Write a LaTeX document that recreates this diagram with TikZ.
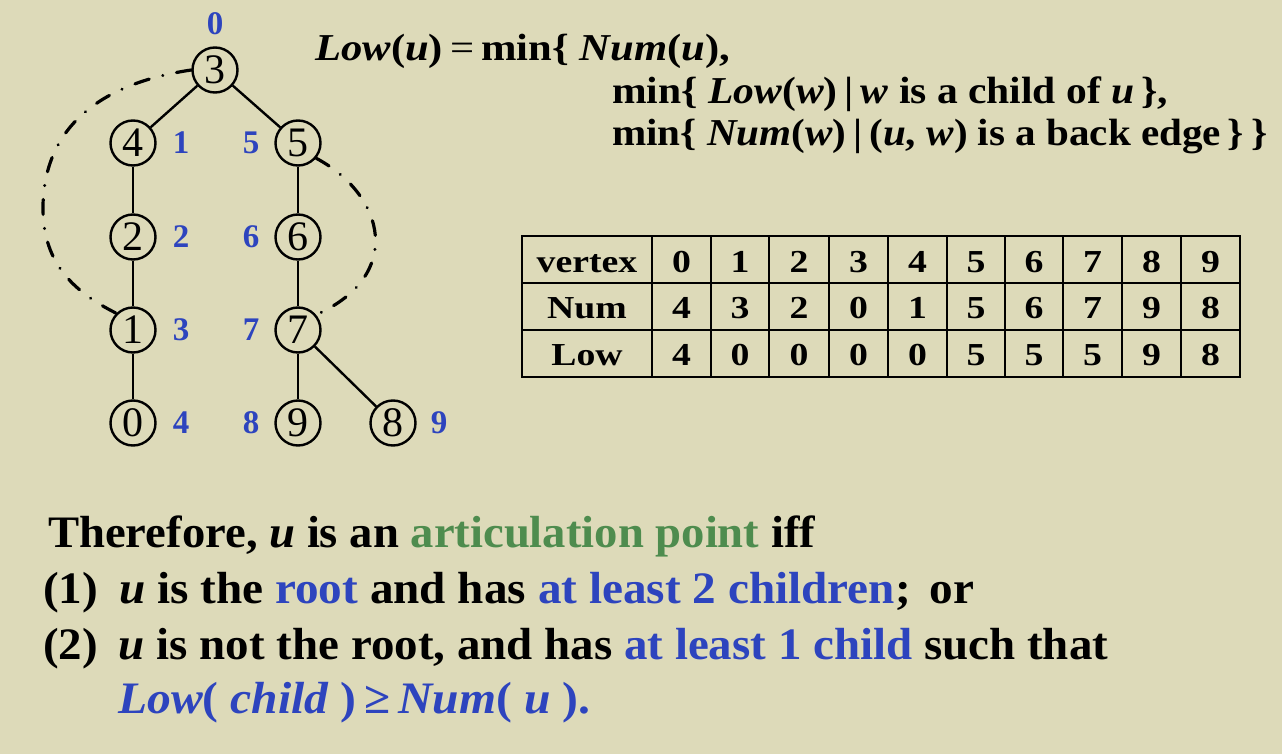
\documentclass[tikz,border=0pt]{standalone}
\usepackage{fontspec}
\usepackage{graphicx}
\setmainfont{Liberation Serif}
\definecolor{bg}{RGB}{221,218,185}
\definecolor{lblue}{RGB}{45,68,190}
\definecolor{lgreen}{RGB}{78,140,78}
\newcommand{\hfit}[2]{\resizebox{#1}{\height}{#2}}
\newcommand{\wcell}[1]{\scalebox{1.18}[1]{#1}}
\tikzset{
  vtx/.style={circle, draw, line width=2.4pt, minimum size=45pt, inner sep=0pt, font=\fontsize{42}{42}\selectfont},
  numlab/.style={text=lblue, font=\bfseries\fontsize{33}{33}\selectfont, inner sep=0pt},
  tedge/.style={line width=2.4pt},
  backedge/.style={line width=3.2pt, line cap=round, dash pattern=on 15pt off 14pt on 0.1pt off 14pt},
  formula/.style={anchor=base west, inner sep=0pt, font=\bfseries\fontsize{38}{38}\selectfont},
  bodytext/.style={anchor=base west, inner sep=0pt, font=\bfseries\fontsize{45}{45}\selectfont},
  cell/.style={anchor=base, inner sep=0pt, font=\bfseries\fontsize{32}{32}\selectfont},
  tline/.style={line width=2.6pt}
}
\begin{document}
\begin{tikzpicture}[x=1pt,y=-1pt]
\fill[bg] (0,0) rectangle (1282,754);
\useasboundingbox (0,0) rectangle (1282,754);
% tree
\node[vtx] (n3) at (215,70) {3};
\node[vtx] (n4) at (133,143) {4};
\node[vtx] (n5) at (298,143) {5};
\node[vtx] (n2) at (133,237) {2};
\node[vtx] (n6) at (298,237) {6};
\node[vtx] (n1) at (133,330) {1};
\node[vtx] (n7) at (298,330) {7};
\node[vtx] (n0) at (133,423) {0};
\node[vtx] (n9) at (298,423) {9};
\node[vtx] (n8) at (393,423) {8};
\draw[tedge] (n3) -- (n4);
\draw[tedge] (n3) -- (n5);
\draw[tedge] (n4) -- (n2);
\draw[tedge] (n2) -- (n1);
\draw[tedge] (n1) -- (n0);
\draw[tedge] (n5) -- (n6);
\draw[tedge] (n6) -- (n7);
\draw[tedge] (n7) -- (n9);
\draw[tedge] (n7) -- (n8);
\draw[backedge] (n3.west) .. controls (110,82) and (45,120) .. (43,205) .. controls (42,260) and (70,290) .. (n1.north west);
\draw[backedge] (n5.-40) .. controls (385,195) and (405,275) .. (n7.40);
% DFS numbers
\node[numlab] (l3) at (215,24) {0};
\node[numlab] (l4) at (181,143) {1};
\node[numlab] (l5) at (251,143) {5};
\node[numlab] (l2) at (181,237) {2};
\node[numlab] (l6) at (251,237) {6};
\node[numlab] (l1) at (181,330) {3};
\node[numlab] (l7) at (251,330) {7};
\node[numlab] (l0) at (181,423) {4};
\node[numlab] (l9) at (251,423) {8};
\node[numlab] (l8) at (439,423) {9};
% formula
\node[formula] (f1) at (315,61) {\hfit{415pt}{\textit{Low}(\textit{u})\,{\mdseries =}\,min\{ \textit{Num}(\textit{u}),}};
\node[formula] (f2) at (612,104) {\hfit{556pt}{min\{ \textit{Low}(\textit{w})\,|\,\textit{w} is a child of \textit{u}\,\},}};
\node[formula] (f3) at (612,146) {\hfit{655pt}{min\{ \textit{Num}(\textit{w})\,|\,(\textit{u}, \textit{w}) is a back edge\,\}\,\}}};
% table
\draw[tline] (522,236) rectangle (1240,377);
\foreach \y in {283,330} \draw[tline] (522,\y) -- (1240,\y);
\foreach \x in {652,711,769,829,888,947,1005,1063,1122,1181} \draw[tline] (\x,236) -- (\x,377);
\node[cell] (h0) at (587,272) {\wcell{vertex}};
\node[cell] (h1) at (587,318) {\wcell{Num}};
\node[cell] (h2) at (587,365) {\wcell{Low}};
\foreach \c/\v/\n/\l in {681.5/0/4/4, 740/1/3/0, 799/2/2/0, 858.5/3/0/0, 917.5/4/1/0, 976/5/5/5, 1034/6/6/5, 1092.5/7/7/5, 1151.5/8/9/9, 1210.5/9/8/8} {
  \node[cell] at (\c,272) {\wcell{\v}};
  \node[cell] at (\c,318) {\wcell{\n}};
  \node[cell] at (\c,365) {\wcell{\l}};
}
% bottom text
\node[bodytext] (t1) at (48,547) {\hfit{767pt}{Therefore, \textit{u} is an \textcolor{lgreen}{articulation point} iff}};
\node[bodytext] (t2) at (43,603) {\hfit{931pt}{(1)\hspace{20pt}\textit{u} is the \textcolor{lblue}{root} and has \textcolor{lblue}{at least 2 children};\hspace{18pt}or}};
\node[bodytext] (t3) at (43,659) {\hfit{1065pt}{(2)\hspace{20pt}\textit{u} is not the root, and has \textcolor{lblue}{at least 1 child} such that}};
\node[bodytext, text=lblue] (t4) at (118,713) {\hfit{472pt}{\textit{Low}( \textit{child} )\,≥\,\textit{Num}( \textit{u} ).}};
\end{tikzpicture}
\end{document}
